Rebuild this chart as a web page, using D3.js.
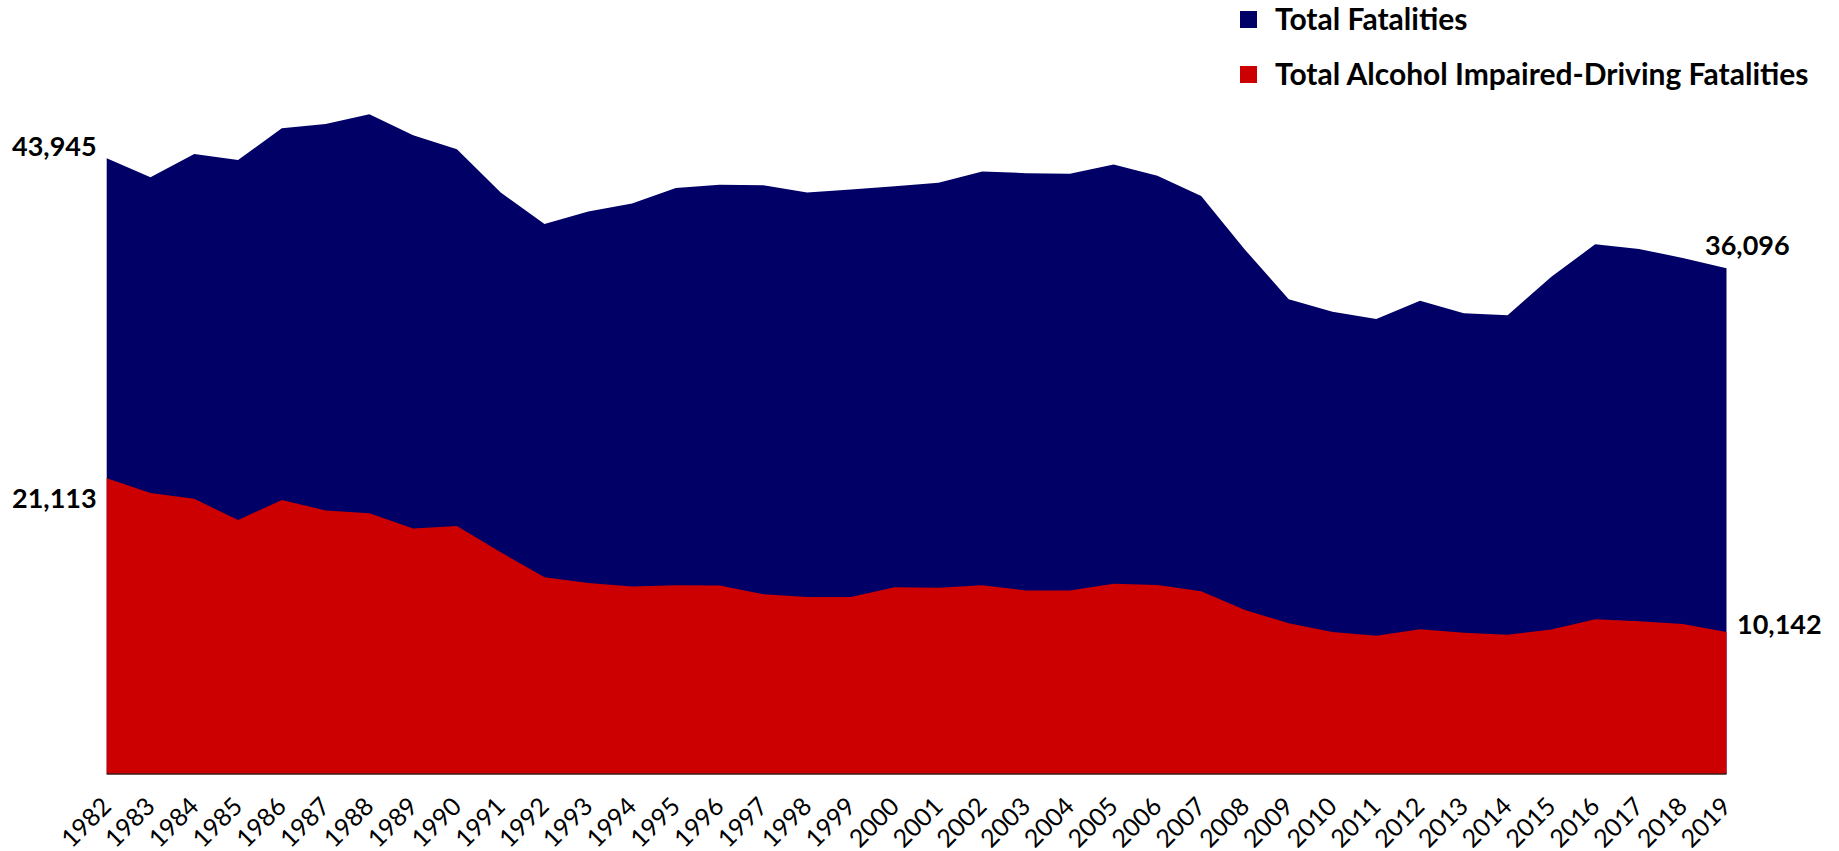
<!DOCTYPE html>
<html>
<head>
<meta charset="utf-8">
<script src="https://cdn.jsdelivr.net/npm/d3@7"></script>
<style>
  body { margin: 0; background: #fff; }
  svg text { font-family: Lato, "Liberation Sans", sans-serif; fill: #000; }
</style>
</head>
<body>
<script>
const years = [1982, 1983, 1984, 1985, 1986, 1987, 1988, 1989, 1990, 1991, 1992, 1993, 1994,
  1995, 1996, 1997, 1998, 1999, 2000, 2001, 2002, 2003, 2004, 2005, 2006, 2007, 2008, 2009,
  2010, 2011, 2012, 2013, 2014, 2015, 2016, 2017, 2018, 2019];

const totalFatalities = [43945, 42589, 44257, 43825, 46087, 46390, 47087, 45582, 44599, 41508,
  39250, 40150, 40716, 41817, 42065, 42013, 41501, 41717, 41945, 42196, 43005, 42884, 42836,
  43510, 42708, 41259, 37423, 33883, 32999, 32479, 33782, 32893, 32744, 35484, 37806, 37473,
  36835, 36096];

const alcoholFatalities = [21113, 20051, 19638, 18125, 19554, 18813, 18611, 17521, 17705, 15827,
  14049, 13632, 13390, 13478, 13451, 12835, 12631, 12627, 13324, 13290, 13472, 13096, 13099,
  13582, 13491, 13041, 11711, 10759, 10136, 9865, 10336, 10084, 9943, 10320, 11051, 10908,
  10710, 10142];

const legendLabels = ['Total Fatalities', 'Total Alcohol Impaired-Driving Fatalities'];
const colors = ['#000066', '#cc0000'];

const width = 1839, height = 851;

const svg = d3.select('body')
  .append('svg')
  .attr('width', width)
  .attr('height', height);

//x runs year to year, y is linear from zero at the baseline
const x = d3.scaleLinear()
  .domain([years[0], years[years.length - 1]])
  .range([106.7, 1726.5]);

const y = d3.scaleLinear()
  .domain([0, 43945])
  .range([774, 158.3]);

const area = (vals) => d3.area()
  .x((d, i) => x(years[i]))
  .y0(y(0))
  .y1((d) => y(d))(vals);

svg.append('path')
  .attr('d', area(totalFatalities))
  .attr('fill', colors[0]);

svg.append('path')
  .attr('d', area(alcoholFatalities))
  .attr('fill', colors[1]);

//baseline
svg.append('line')
  .attr('x1', x(years[0]))
  .attr('x2', x(years[years.length - 1]))
  .attr('y1', y(0))
  .attr('y2', y(0))
  .attr('stroke', '#3a1a1a')
  .attr('stroke-width', 1.5);

//rotated year labels
svg.selectAll('.year')
  .data(years)
  .enter()
  .append('text')
  .attr('class', 'year')
  .attr('transform', (d) => `translate(${x(d) + 6},${y(0) + 34}) rotate(-45)`)
  .attr('text-anchor', 'end')
  .style('font-size', '25px')
  .text((d) => d);

//end-point value labels
const fmt = d3.format(',');
const endLabels = [
  { v: totalFatalities[0], x: 12, y: 156 },
  { v: alcoholFatalities[0], x: 12, y: 508 },
  { v: totalFatalities[totalFatalities.length - 1], x: 1705, y: 255 },
  { v: alcoholFatalities[alcoholFatalities.length - 1], x: 1737, y: 634 }
];

svg.selectAll('.endlabel')
  .data(endLabels)
  .enter()
  .append('text')
  .attr('class', 'endlabel')
  .attr('x', (d) => d.x)
  .attr('y', (d) => d.y)
  .style('font-size', '27px')
  .style('font-weight', 'bold')
  .text((d) => fmt(d.v));

//legend
const legend = svg.selectAll('.legend')
  .data(legendLabels)
  .enter()
  .append('g')
  .attr('class', 'legend')
  .attr('transform', (d, i) => `translate(1240,${30 + i * 55})`);

legend.append('rect')
  .attr('y', -19)
  .attr('width', 17)
  .attr('height', 17)
  .attr('fill', (d, i) => colors[i]);

legend.append('text')
  .attr('x', 35)
  .attr('y', 0)
  .style('font-size', '30px')
  .style('font-weight', 'bold')
  .text((d) => d);
</script>
</body>
</html>
